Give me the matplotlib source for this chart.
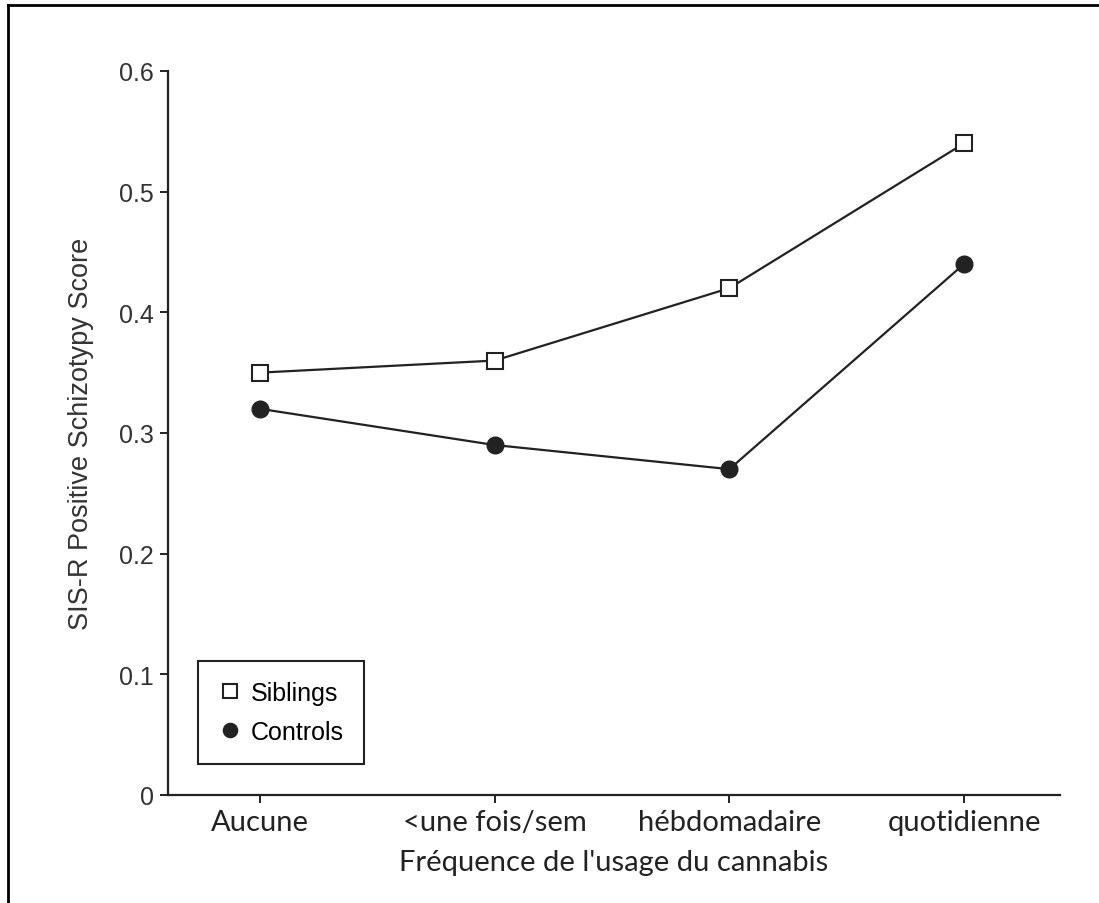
import matplotlib.pyplot as plt
from matplotlib.lines import Line2D

categories = ['Aucune', '<une fois/sem', 'hébdomadaire', 'quotidienne']
siblings = [0.35, 0.36, 0.42, 0.54]
controls = [0.32, 0.29, 0.27, 0.44]
yticks = [0, 0.1, 0.2, 0.3, 0.4, 0.5, 0.6]
ytick_labels = ['0', '0.1', '0.2', '0.3', '0.4', '0.5', '0.6']

sans = ['Liberation Sans', 'DejaVu Sans']
humanist = ['Lato', 'DejaVu Sans']
ink = '#222222'

fig = plt.figure(figsize=(10.99, 9.04), dpi=100)
ax = fig.add_axes([0.1529, 0.1195, 0.8116, 0.8009])

x = list(range(len(categories)))
ax.plot(x, siblings, color=ink, lw=1.6, marker='s', ms=12,
        mfc='white', mec=ink, mew=1.5, label='Siblings', zorder=3)
ax.plot(x, controls, color=ink, lw=1.6, marker='o', ms=12,
        mfc=ink, mec=ink, label='Controls', zorder=3)

ax.set_xlim(-0.392, 3.409)
ax.set_ylim(0, 0.6)
ax.set_yticks(yticks)
ax.set_yticklabels(ytick_labels, family=sans, fontsize=18, color='#333333')
ax.set_xticks(x)
ax.set_xticklabels(categories, family=humanist, fontsize=21, color='#222222')

for side in ['top', 'right']:
    ax.spines[side].set_visible(False)
for side in ['left', 'bottom']:
    ax.spines[side].set_linewidth(1.6)
    ax.spines[side].set_color(ink)
ax.tick_params(direction='out', length=6, width=1.4, color=ink, pad=4)

ax.set_ylabel('SIS-R Positive Schizotypy Score', family=sans,
              fontsize=19.5, color='#333333', labelpad=18)
ax.set_xlabel("Fréquence de l'usage du cannabis", family=humanist,
              fontsize=21, color='#222222', labelpad=10)

leg = ax.legend(loc='lower left', bbox_to_anchor=(0.020, 0.026),
                prop={'family': sans, 'size': 18}, frameon=True,
                fancybox=False, framealpha=1, handlelength=0.9,
                handletextpad=0.4, borderpad=0.8, labelspacing=0.6,
                markerscale=0.85)
leg.get_frame().set_edgecolor(ink)
leg.get_frame().set_linewidth(1.5)
for h in leg.legend_handles:
    h.set_linestyle('none')

# outer frame: only left and top edges show
fig.add_artist(Line2D([8 / 1099, 8 / 1099], [0, 1 - 6 / 904],
                      transform=fig.transFigure, color='black', lw=2))
fig.add_artist(Line2D([8 / 1099, 1], [1 - 6 / 904, 1 - 6 / 904],
                      transform=fig.transFigure, color='black', lw=2))

fig.savefig('out.png', dpi=100)
